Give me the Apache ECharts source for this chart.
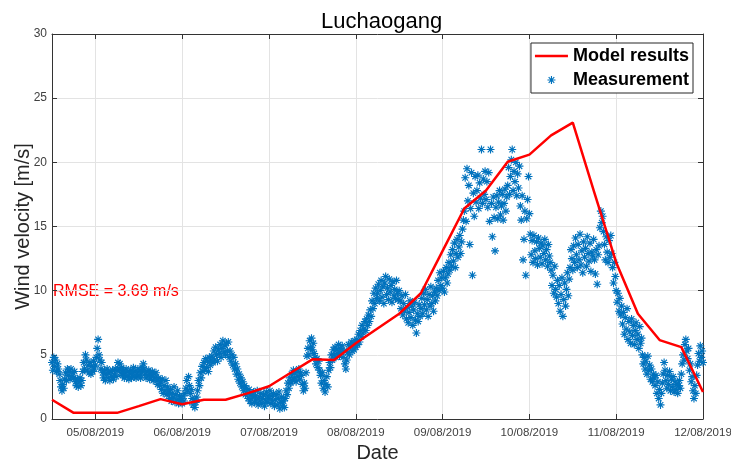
<!DOCTYPE html>
<html>
<head>
<meta charset="utf-8">
<title>Luchaogang</title>
<script src="https://cdn.jsdelivr.net/npm/echarts@6/dist/echarts.min.js"></script>
<style>
  html, body { margin: 0; padding: 0; background: #fff; }
  #chart { width: 731px; height: 465px; }
</style>
</head>
<body>
<div id="chart"></div>
<script>
// x values are days of August 2019 (4.5 = 04/08 12:00)
var tickDays = [5, 6, 7, 8, 9, 10, 11, 12];
var tickLabels = ['05/08/2019', '06/08/2019', '07/08/2019', '08/08/2019',
                  '09/08/2019', '10/08/2019', '11/08/2019', '12/08/2019'];

// model output, every 6 hours
var modelDays = [4.5, 4.75, 5, 5.25, 5.5, 5.75, 6, 6.25, 6.5, 6.75, 7, 7.25, 7.5, 7.75,
                 8, 8.25, 8.5, 8.75, 9, 9.25, 9.5, 9.75, 10, 10.25, 10.5, 10.75,
                 11, 11.25, 11.5, 11.75, 12];
var modelWind = [1.5, 0.48, 0.48, 0.48, 1.0, 1.55, 1.15, 1.5, 1.5, 2.0, 2.55, 3.6, 4.65, 4.6,
                 5.9, 7.05, 8.2, 9.8, 13.1, 16.4, 17.8, 20.05, 20.6, 22.1, 23.1, 17.6,
                 12.2, 8.2, 6.15, 5.6, 2.1];

// measurements, every 15 minutes, one array per day (04/08 starts at 12:00)
var meas04 = [4.4, 3.8, 4.8, 4.1, 4.6, 3.7, 4.3, 3.9, 3.5, 3.0, 2.5, 2.2, 2.7, 2.4, 3.1,
              3.6, 3.0, 3.9, 3.4, 3.7, 3.1, 3.9, 3.3, 3.6,
              3.2, 3.7, 2.9, 2.6, 3.1, 2.5, 2.9, 3.2, 2.6, 3.0, 3.7, 4.4, 3.9, 5.0, 4.6,
              3.8, 4.2, 3.6, 4.4, 3.5, 4.1, 3.7, 4.5, 3.9];
var meas05 = [4.2, 4.8, 5.5, 6.2, 5.0, 4.6, 3.9, 4.4, 3.6, 3.2, 3.8, 3.0, 3.5, 3.9, 3.2,
              3.6, 3.0, 3.7, 3.3, 3.8, 3.1, 3.5, 3.9, 3.3,
              3.8, 4.4, 3.9, 4.3, 3.6, 4.0, 3.4, 3.8, 3.2, 3.6, 3.9, 3.3, 3.7, 3.1, 3.5,
              3.8, 3.2, 3.6, 4.0, 3.3, 3.7, 3.2, 3.5, 3.9,
              3.4, 3.8, 3.2, 3.6, 4.0, 4.3, 3.9, 3.5, 3.2, 3.7, 3.4, 3.8, 3.1, 3.6, 3.3,
              3.7, 3.0, 3.5, 3.2, 3.6, 3.0, 2.7, 3.2, 2.6,
              2.9, 2.3, 3.1, 2.0, 2.6, 2.2, 3.0, 1.9, 2.5, 2.1, 1.6, 2.3, 1.4, 2.0, 1.7,
              2.5, 1.3, 1.9, 1.5, 2.2, 1.2, 1.8, 1.4, 1.6];
var meas06 = [1.2, 1.8, 1.4, 2.0, 2.4, 3.0, 2.2, 3.3, 2.6, 2.0, 2.3, 1.6, 1.1, 1.5, 0.9,
              1.3, 1.7, 2.2, 3.0, 2.6, 3.6, 3.2, 4.1, 3.7,
              4.4, 3.8, 4.7, 4.0, 4.5, 3.7, 4.8, 4.2, 4.6, 4.9, 4.4, 5.3, 4.6, 5.6, 5.0,
              4.5, 5.4, 5.1, 5.8, 4.8, 5.5, 6.1, 5.2, 5.7,
              5.0, 5.9, 5.3, 6.0, 4.8, 5.3, 4.5, 5.0, 4.2, 4.8, 3.9, 4.3, 3.5, 3.9, 3.1,
              3.5, 2.8, 3.2, 2.5, 2.9, 2.2, 2.6, 1.9, 2.4,
              2.0, 1.6, 2.3, 1.4, 1.9, 1.2, 1.7, 2.1, 1.3, 1.8, 1.5, 2.2, 1.1, 1.7, 1.4,
              2.0, 1.2, 1.6, 1.9, 1.0, 1.5, 2.1, 1.3, 1.8];
var meas07 = [1.6, 2.2, 1.2, 1.8, 1.4, 2.0, 1.0, 1.5, 1.9, 1.1, 1.6, 2.1, 0.8, 1.3, 1.7,
              1.0, 1.4, 0.9, 1.6, 2.2, 1.9, 2.8, 2.4, 3.2,
              2.8, 3.5, 3.0, 3.8, 3.2, 3.6, 2.9, 3.7, 3.3, 3.9, 3.1, 3.6, 3.4, 2.7, 2.2,
              2.8, 2.4, 3.6, 4.9, 5.5, 5.0, 6.1, 5.6, 6.3,
              5.4, 5.9, 5.1, 4.8, 4.3, 4.7, 4.0, 4.5, 3.8, 3.4, 2.8, 3.6, 2.4, 3.0, 2.1,
              2.7, 3.3, 2.5, 3.8, 4.4, 4.0, 5.0, 4.6, 5.4,
              5.0, 5.6, 4.8, 5.4, 5.1, 5.8, 4.9, 5.5, 5.2, 5.7, 4.8, 5.3, 4.3, 3.9, 4.6,
              5.2, 5.8, 5.0, 5.6, 6.0, 5.3, 5.9, 5.4, 6.1];
var meas08 = [5.6, 6.2, 5.8, 6.6, 6.0, 6.9, 6.4, 7.3, 6.7, 7.0, 7.6, 6.9, 7.8, 7.3, 8.1,
              7.6, 8.5, 8.0, 9.2, 8.6, 9.8, 9.0, 10.2, 9.4,
              9.8, 10.5, 9.2, 10.0, 10.8, 9.5, 10.3, 9.0, 10.6, 11.1, 9.7, 10.2, 9.3, 10.9, 9.9,
              10.4, 9.1, 10.7, 9.6, 10.1, 9.4, 10.8, 9.8, 9.3,
              10.0, 9.2, 8.6, 9.6, 8.1, 9.0, 8.4, 9.7, 7.8, 8.7, 7.5, 8.3, 9.2, 7.9, 8.8,
              7.3, 8.5, 9.1, 7.7, 6.7, 8.2, 7.6, 8.9, 8.0,
              8.6, 9.4, 8.2, 9.8, 8.9, 10.1, 8.5, 9.3, 8.0, 9.7, 8.8, 10.3, 9.0, 9.6, 8.4,
              9.9, 9.2, 10.2, 9.6, 10.8, 10.0, 11.4, 10.4, 11.0];
var meas09 = [10.2, 11.5, 9.9, 11.0, 11.8, 10.6, 11.3, 12.2, 11.6, 12.8, 11.9, 13.2, 12.3, 13.7, 11.8,
              12.9, 14.0, 12.6, 13.4, 14.3, 12.9, 13.8, 14.8, 15.5,
              16.2, 18.8, 15.4, 19.5, 17.0, 18.2, 13.6, 16.4, 19.2, 11.2, 17.6, 15.8, 18.9, 16.9, 17.8,
              19.0, 16.4, 18.4, 17.2, 21.0, 16.8, 18.7, 17.5, 19.3,
              17.1, 18.5, 16.5, 19.2, 15.4, 21.0, 16.8, 14.2, 17.3, 15.7, 13.1, 16.5, 17.4, 15.6, 16.9,
              17.8, 15.9, 16.6, 17.5, 15.5, 16.8, 17.9, 16.2, 17.3,
              18.2, 19.6, 17.5, 18.9, 20.2, 21.0, 17.8, 19.3, 18.5, 20.0, 17.4, 19.1, 18.0, 19.7, 16.6,
              15.5, 17.4, 12.4, 14.0, 16.2, 11.2, 15.6, 17.1, 18.9];
var meas10 = [16.0, 14.4, 12.8, 13.9, 12.2, 14.3, 13.1, 12.5, 13.8, 12.0, 14.1, 13.3, 12.6, 13.7, 12.1,
              13.5, 12.9, 14.0, 12.4, 13.2, 11.9, 13.6, 12.7, 12.2,
              11.6, 10.4, 11.2, 9.8, 11.9, 10.1, 9.5, 10.8, 9.0, 10.4, 8.4, 9.7, 11.0, 8.0, 9.3,
              10.6, 8.8, 10.1, 11.4, 9.6, 10.9, 11.8, 13.2, 12.5,
              11.6, 13.5, 12.2, 14.1, 12.8, 11.8, 13.6, 12.4, 14.4, 12.0, 13.1, 11.4, 13.8, 12.6, 13.3,
              11.9, 14.2, 12.9, 12.3, 13.7, 11.5, 13.0, 12.7, 14.0,
              12.4, 11.3, 13.2, 10.5, 12.8, 13.5, 14.9, 16.2, 15.3, 15.8, 14.6, 13.6, 12.4, 14.2, 13.0,
              12.2, 13.9, 12.6, 14.3, 12.9, 11.8, 10.6, 12.2, 11.1];
var meas11 = [10.0, 9.1, 9.8, 8.4, 9.4, 8.1, 8.8, 7.4, 8.3, 6.6, 7.9, 7.0, 8.6, 6.2, 7.6,
              6.8, 5.9, 7.8, 6.5, 7.3, 5.8, 6.9, 7.5, 6.2,
              6.6, 5.5, 7.2, 5.9, 6.3, 5.0, 4.3, 4.8, 3.9, 4.5, 3.5, 4.9, 3.8, 4.2, 3.1,
              3.9, 2.9, 3.5, 3.2, 2.6, 3.4, 2.0, 2.9, 1.6,
              2.3, 1.1, 2.0, 2.8, 3.5, 4.4, 3.8, 3.0, 2.4, 3.4, 2.7, 3.7, 2.2, 3.1, 2.5,
              3.3, 2.1, 2.9, 2.3, 2.7, 2.0, 2.6, 3.0, 2.4,
              3.5, 4.3, 5.0, 4.6, 5.8, 6.2, 5.3, 4.7, 5.5, 3.8, 4.3, 2.9, 3.3, 2.2, 1.6,
              2.6, 2.0, 3.4, 4.2, 5.1, 4.5, 5.7, 4.8, 5.3];
var meas12 = [4.4];

var rmseText = 'RMSE = 3.69 m/s';

var measStart = 4.5;
var measStep = 1 / 96;

var measData = [];
[meas04, meas05, meas06, meas07, meas08, meas09, meas10, meas11, meas12].forEach(function (day) {
    day.forEach(function (v) {
        measData.push([measStart + measData.length * measStep, v]);
    });
});
var modelData = modelDays.map(function (d, i) { return [d, modelWind[i]]; });

var asterisk = 'path://M0 4.3L10 4.3L10 5.7L0 5.7Z M4.3 0L5.7 0L5.7 10L4.3 10Z ' +
               'M1 2L2 1L9 8L8 9Z M8 1L9 2L2 9L1 8Z';
// plain red stroke for the legend (zero-area ends keep the box 33x8)
var lineIcon = 'path://M0 0L33 0L33 0Z M0 2.75L33 2.75L33 5.25L0 5.25Z M0 8L33 8L33 8Z';

var font = '"Liberation Sans", Arial, Helvetica, sans-serif';
var axisColor = '#333333';

var chart = echarts.init(document.getElementById('chart'));
var option = {
    animation: false,
    textStyle: { fontFamily: font },
    title: {
        text: 'Luchaogang',
        left: 316,
        top: 6,
        textStyle: { fontFamily: font, fontSize: 22, fontWeight: 'normal', color: '#000' }
    },
    legend: {
        data: [{ name: 'Model results', icon: lineIcon }, { name: 'Measurement' }],
        orient: 'vertical',
        right: 38,
        top: 43,
        align: 'left',
        itemWidth: 33,
        itemHeight: 8,
        itemGap: 6,
        padding: [4, 4, 4, 4],
        borderColor: '#262626',
        borderWidth: 1,
        backgroundColor: '#fff',
        textStyle: { fontFamily: font, fontSize: 18, fontWeight: 'bold', color: '#000' }
    },
    grid: { left: 52, right: 28, top: 34, bottom: 46, containLabel: false, outerBoundsMode: 'none' },
    xAxis: [{
        type: 'value',
        min: 4.5,
        max: 12,
        name: 'Date',
        nameLocation: 'middle',
        nameGap: 24,
        nameMoveOverlap: false,
        nameTextStyle: { fontSize: 20, color: '#262626' },
        axisLine: { onZero: false, lineStyle: { color: axisColor } },
        axisTick: { inside: true, length: 5, customValues: tickDays, lineStyle: { color: axisColor } },
        axisLabel: {
            customValues: tickDays,
            fontSize: 11.5,
            color: '#404040',
            margin: 8,
            formatter: function (v) { return tickLabels[tickDays.indexOf(v)]; }
        },
        splitLine: { show: true, lineStyle: { color: '#e3e3e3' } }
    }, {
        type: 'value',
        position: 'top',
        min: 4.5,
        max: 12,
        axisLine: { onZero: false, lineStyle: { color: axisColor } },
        axisTick: { inside: true, length: 5, customValues: tickDays, lineStyle: { color: axisColor } },
        axisLabel: { show: false },
        splitLine: { show: false }
    }],
    yAxis: [{
        type: 'value',
        min: 0,
        max: 30,
        interval: 5,
        name: 'Wind velocity [m/s]',
        nameLocation: 'middle',
        nameGap: 19,
        nameMoveOverlap: false,
        nameTextStyle: { fontSize: 20, color: '#262626' },
        axisLine: { show: true, onZero: false, lineStyle: { color: axisColor } },
        axisTick: { show: true, inside: true, length: 5, lineStyle: { color: axisColor } },
        axisLabel: { fontSize: 12, color: '#404040', margin: 5 },
        splitLine: { show: true, lineStyle: { color: '#e3e3e3' } }
    }, {
        type: 'value',
        position: 'right',
        min: 0,
        max: 30,
        interval: 5,
        axisLine: { show: true, onZero: false, lineStyle: { color: axisColor } },
        axisTick: { show: true, inside: true, length: 5, lineStyle: { color: axisColor } },
        axisLabel: { show: false },
        splitLine: { show: false }
    }],
    graphic: [{
        type: 'text',
        left: 53,
        top: 284,
        style: { text: rmseText, fill: '#ff0000', font: '16px ' + font }
    }],
    series: [{
        name: 'Measurement',
        type: 'scatter',
        data: measData,
        symbol: asterisk,
        symbolSize: 8,
        symbolKeepAspect: true,
        itemStyle: { color: '#0072BD', opacity: 1 },
        z: 2
    }, {
        name: 'Model results',
        type: 'line',
        data: modelData,
        symbol: 'none',
        lineStyle: { color: '#ff0000', width: 2.5 },
        itemStyle: { color: '#ff0000' },
        z: 3
    }]
};
chart.setOption(option);
</script>
</body>
</html>
